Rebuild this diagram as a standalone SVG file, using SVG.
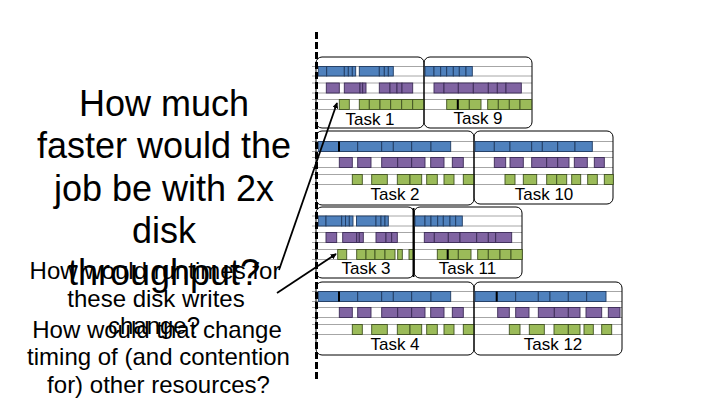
<svg xmlns="http://www.w3.org/2000/svg" width="720" height="405" viewBox="0 0 720 405">
<defs>
<style>
.bg{fill:#ffffff}
.gl{stroke:#a6a6a6;stroke-width:1}
.b{fill:#4f81bd;stroke:#1f3a60;stroke-width:0.9}
.p{fill:#8064a2;stroke:#3a2a55;stroke-width:0.9}
.g{fill:#9bbb59;stroke:#3f5020;stroke-width:0.9}
.tk{stroke:#000;stroke-width:2}
.box{fill:none;stroke:#000;stroke-width:1}
.lbl{font-family:"Liberation Sans",Arial,sans-serif;font-size:17px;fill:#000;text-anchor:middle}
.big{font-family:"Liberation Sans",Arial,sans-serif;font-size:36px;fill:#000;text-anchor:middle}
.mid{font-family:"Liberation Sans",Arial,sans-serif;font-size:24px;fill:#000;text-anchor:middle}
.cn{stroke:#000;stroke-width:1.8;fill:none}
.dash{stroke:#000;stroke-width:3;stroke-dasharray:7 3}
</style>
<marker id="ah" viewBox="0 0 8 8" refX="7" refY="4" markerWidth="6" markerHeight="6" markerUnits="userSpaceOnUse" orient="auto">
<path d="M0,0 L8,4 L0,8 z" fill="#000"/>
</marker>
</defs>
<rect class="bg" x="0" y="0" width="720" height="405"/>

<g id="gridlines">
<path class="gl" d="M312,66.5H532M312,76H532M312,83H532M312,93H532M312,99.5H532M312,109.5H532"/>
<path class="gl" d="M312,141.5H613M312,151.5H613M312,157.5H613M312,167.5H613M312,174.5H613M312,184.5H613"/>
<path class="gl" d="M312,216H522M312,226H522M312,232.5H522M312,242.5H522M312,249.5H522M312,259.5H522"/>
<path class="gl" d="M312,291.5H622M312,301.5H622M312,307.5H622M312,317.5H622M312,324.5H622M312,334.5H622"/>
</g>

<g id="task1">
<rect class="box" x="316" y="57" width="108" height="71" rx="6"/>
<rect class="b" x="318.3" y="66.5" width="8.4" height="9.5"/><rect class="b" x="326.7" y="66.5" width="17.6" height="9.5"/><rect class="b" x="344.3" y="66.5" width="4" height="9.5"/><rect class="b" x="348.3" y="66.5" width="4" height="9.5"/><rect class="b" x="352.3" y="66.5" width="3.4" height="9.5"/>
<rect class="b" x="359.3" y="66.5" width="20" height="9.5"/><rect class="b" x="379.3" y="66.5" width="5" height="9.5"/><rect class="b" x="384.3" y="66.5" width="4" height="9.5"/><rect class="b" x="388.3" y="66.5" width="5" height="9.5"/>
<rect class="p" x="326.3" y="83" width="13" height="10"/><rect class="p" x="344.3" y="83" width="15.7" height="10"/><rect class="p" x="360" y="83" width="2.7" height="10"/><rect class="p" x="362.7" y="83" width="3.3" height="10"/>
<rect class="p" x="379.3" y="83" width="10.7" height="10"/><rect class="p" x="390" y="83" width="7" height="10"/><rect class="p" x="397" y="83" width="5" height="10"/><rect class="p" x="402" y="83" width="10.7" height="10"/>
<rect class="g" x="339.3" y="99.5" width="10" height="10"/><rect class="g" x="359.3" y="99.5" width="10" height="10"/><rect class="g" x="369.3" y="99.5" width="10.7" height="10"/><rect class="g" x="380" y="99.5" width="10.7" height="10"/><rect class="g" x="390.7" y="99.5" width="11" height="10"/><rect class="g" x="401.7" y="99.5" width="11" height="10"/><rect class="g" x="412.7" y="99.5" width="11.3" height="10"/>
<text class="lbl" x="370" y="125">Task 1</text>
</g>

<g id="task9">
<rect class="box" x="424" y="57" width="108" height="71" rx="6"/>
<rect class="b" x="425" y="66.5" width="9" height="9.5"/><rect class="b" x="434" y="66.5" width="6.7" height="9.5"/><rect class="b" x="440.7" y="66.5" width="6" height="9.5"/><rect class="b" x="446.7" y="66.5" width="6.6" height="9.5"/><rect class="b" x="453.3" y="66.5" width="6" height="9.5"/><rect class="b" x="459.3" y="66.5" width="6.7" height="9.5"/><rect class="b" x="466" y="66.5" width="6.3" height="9.5"/>
<rect class="p" x="434" y="83" width="10" height="10"/><rect class="p" x="444" y="83" width="14.3" height="10"/><rect class="p" x="458.3" y="83" width="15" height="10"/><rect class="p" x="473.3" y="83" width="15" height="10"/><rect class="p" x="488.3" y="83" width="9" height="10"/><rect class="p" x="497.3" y="83" width="8.7" height="10"/><rect class="p" x="506" y="83" width="15.3" height="10"/>
<rect class="g" x="446.7" y="99.5" width="11.1" height="10"/><rect class="g" x="457.8" y="99.5" width="11.5" height="10"/><rect class="g" x="469.3" y="99.5" width="11.7" height="10"/>
<rect class="g" x="487.7" y="99.5" width="10.6" height="10"/><rect class="g" x="498.3" y="99.5" width="11" height="10"/><rect class="g" x="509.3" y="99.5" width="10.7" height="10"/><rect class="g" x="520" y="99.5" width="11.7" height="10"/>
<line class="tk" x1="457.8" y1="99.5" x2="457.8" y2="109.5"/>
<text class="lbl" x="478" y="124">Task 9</text>
</g>

<g id="task2">
<rect class="box" x="316" y="131" width="158" height="74" rx="6"/>
<rect class="b" x="318.3" y="141.5" width="20.7" height="10"/><rect class="b" x="339" y="141.5" width="18.7" height="10"/><rect class="b" x="357.7" y="141.5" width="24" height="10"/><rect class="b" x="381.7" y="141.5" width="11.6" height="10"/><rect class="b" x="393.3" y="141.5" width="18.4" height="10"/><rect class="b" x="411.7" y="141.5" width="19.3" height="10"/><rect class="b" x="431" y="141.5" width="19.7" height="10"/>
<line class="tk" x1="339" y1="141.5" x2="339" y2="151.5"/>
<rect class="p" x="339.3" y="157.5" width="13" height="10"/><rect class="p" x="357.7" y="157.5" width="13.3" height="10"/><rect class="p" x="381.7" y="157.5" width="16" height="10"/><rect class="p" x="397.7" y="157.5" width="14" height="10"/><rect class="p" x="411.7" y="157.5" width="13.3" height="10"/><rect class="p" x="430.7" y="157.5" width="13.3" height="10"/><rect class="p" x="452.3" y="157.5" width="11" height="10"/>
<rect class="g" x="352.3" y="174.5" width="10" height="10"/><rect class="g" x="371.7" y="174.5" width="15.6" height="10"/><rect class="g" x="397.3" y="174.5" width="12.7" height="10"/><rect class="g" x="410" y="174.5" width="11.7" height="10"/><rect class="g" x="426.7" y="174.5" width="10.6" height="10"/><rect class="g" x="444" y="174.5" width="10" height="10"/><rect class="g" x="463.3" y="174.5" width="10.7" height="10"/>
<text class="lbl" x="395" y="200">Task 2</text>
</g>

<g id="task10">
<rect class="box" x="474" y="131" width="139" height="73" rx="6"/>
<rect class="b" x="475" y="141.5" width="19.3" height="10"/><rect class="b" x="494.3" y="141.5" width="15.7" height="10"/><rect class="b" x="510" y="141.5" width="21.7" height="10"/><rect class="b" x="531.7" y="141.5" width="10.6" height="10"/><rect class="b" x="542.3" y="141.5" width="15.4" height="10"/><rect class="b" x="557.7" y="141.5" width="17.3" height="10"/><rect class="b" x="575" y="141.5" width="17.3" height="10"/>
<rect class="p" x="494.3" y="157.5" width="11.4" height="10"/><rect class="p" x="510" y="157.5" width="13.3" height="10"/><rect class="p" x="531.7" y="157.5" width="15" height="10"/><rect class="p" x="546.7" y="157.5" width="11" height="10"/><rect class="p" x="557.7" y="157.5" width="11.3" height="10"/><rect class="p" x="574.3" y="157.5" width="13" height="10"/><rect class="p" x="594.3" y="157.5" width="10" height="10"/>
<rect class="g" x="505" y="174.5" width="10" height="10"/><rect class="g" x="523.3" y="174.5" width="13.4" height="10"/><rect class="g" x="546.7" y="174.5" width="10" height="10"/><rect class="g" x="556.7" y="174.5" width="10" height="10"/><rect class="g" x="571.7" y="174.5" width="9" height="10"/><rect class="g" x="587.7" y="174.5" width="9.6" height="10"/><rect class="g" x="604.3" y="174.5" width="9" height="10"/>
<text class="lbl" x="544" y="200">Task 10</text>
</g>

<g id="task3">
<rect class="box" x="316" y="207" width="98" height="71" rx="6"/>
<rect class="b" x="318.3" y="216" width="7.7" height="10"/><rect class="b" x="326" y="216" width="15.7" height="10"/><rect class="b" x="341.7" y="216" width="3.8" height="10"/><rect class="b" x="345.5" y="216" width="3.8" height="10"/><rect class="b" x="349.3" y="216" width="3.7" height="10"/>
<rect class="b" x="356.5" y="216" width="19.5" height="10"/><rect class="b" x="376" y="216" width="5" height="10"/><rect class="b" x="381" y="216" width="4" height="10"/><rect class="b" x="385" y="216" width="3.3" height="10"/>
<rect class="p" x="326" y="232.5" width="10.7" height="10"/><rect class="p" x="342.7" y="232.5" width="14" height="10"/><rect class="p" x="356.7" y="232.5" width="2.6" height="10"/><rect class="p" x="359.3" y="232.5" width="4" height="10"/>
<rect class="p" x="376" y="232.5" width="10" height="10"/><rect class="p" x="386" y="232.5" width="5.7" height="10"/><rect class="p" x="391.7" y="232.5" width="5.6" height="10"/>
<rect class="g" x="337.7" y="249.5" width="9" height="10"/><rect class="g" x="356.7" y="249.5" width="9.3" height="10"/><rect class="g" x="366" y="249.5" width="9" height="10"/><rect class="g" x="375" y="249.5" width="10" height="10"/><rect class="g" x="385" y="249.5" width="10" height="10"/><rect class="g" x="397.7" y="249.5" width="4.6" height="10"/><rect class="g" x="409" y="249.5" width="5" height="10"/>
<text class="lbl" x="366" y="273.5">Task 3</text>
</g>

<g id="task11">
<rect class="box" x="414" y="207" width="108" height="71" rx="6"/>
<line class="tk" x1="413.5" y1="208" x2="413.5" y2="277"/>
<rect class="b" x="415" y="216" width="10" height="10"/><rect class="b" x="425" y="216" width="6" height="10"/><rect class="b" x="431" y="216" width="6.7" height="10"/><rect class="b" x="437.7" y="216" width="5.6" height="10"/><rect class="b" x="443.3" y="216" width="6.7" height="10"/><rect class="b" x="450" y="216" width="5.7" height="10"/><rect class="b" x="455.7" y="216" width="6.6" height="10"/>
<rect class="p" x="424.3" y="232.5" width="10" height="10"/><rect class="p" x="434.3" y="232.5" width="14" height="10"/><rect class="p" x="448.3" y="232.5" width="11.7" height="10"/><rect class="p" x="460" y="232.5" width="16.7" height="10"/><rect class="p" x="476.7" y="232.5" width="11.6" height="10"/><rect class="p" x="488.3" y="232.5" width="7.4" height="10"/><rect class="p" x="495.7" y="232.5" width="16" height="10"/>
<rect class="g" x="437.3" y="249.5" width="10.4" height="10"/><rect class="g" x="447.7" y="249.5" width="10.6" height="10"/><rect class="g" x="458.3" y="249.5" width="12.7" height="10"/>
<rect class="g" x="477.7" y="249.5" width="10.6" height="10"/><rect class="g" x="488.3" y="249.5" width="11.7" height="10"/><rect class="g" x="500" y="249.5" width="11" height="10"/><rect class="g" x="511" y="249.5" width="11.3" height="10"/>
<line class="tk" x1="447.7" y1="249.5" x2="447.7" y2="259.5"/>
<text class="lbl" x="467.5" y="273.5">Task 11</text>
</g>

<g id="task4">
<rect class="box" x="316" y="282" width="158" height="73" rx="6"/>
<rect class="b" x="318.3" y="291.5" width="20.7" height="10"/><rect class="b" x="339" y="291.5" width="18.7" height="10"/><rect class="b" x="357.7" y="291.5" width="24" height="10"/><rect class="b" x="381.7" y="291.5" width="11.6" height="10"/><rect class="b" x="393.3" y="291.5" width="18.4" height="10"/><rect class="b" x="411.7" y="291.5" width="19.3" height="10"/><rect class="b" x="431" y="291.5" width="19.7" height="10"/>
<line class="tk" x1="339" y1="291.5" x2="339" y2="301.5"/>
<rect class="p" x="339.3" y="307.5" width="13" height="10"/><rect class="p" x="357.7" y="307.5" width="13.3" height="10"/><rect class="p" x="381.7" y="307.5" width="16" height="10"/><rect class="p" x="397.7" y="307.5" width="14" height="10"/><rect class="p" x="411.7" y="307.5" width="13.3" height="10"/><rect class="p" x="430.7" y="307.5" width="13.3" height="10"/><rect class="p" x="452.3" y="307.5" width="11" height="10"/>
<rect class="g" x="352.3" y="324.5" width="10" height="10"/><rect class="g" x="371.7" y="324.5" width="15.6" height="10"/><rect class="g" x="397.3" y="324.5" width="12.7" height="10"/><rect class="g" x="410" y="324.5" width="11.7" height="10"/><rect class="g" x="426.7" y="324.5" width="10.6" height="10"/><rect class="g" x="444" y="324.5" width="10" height="10"/><rect class="g" x="463.3" y="324.5" width="10.7" height="10"/>
<text class="lbl" x="395" y="350">Task 4</text>
</g>

<g id="task12">
<rect class="box" x="474" y="282" width="148" height="73" rx="6"/>
<rect class="b" x="475" y="291.5" width="21.7" height="10"/><rect class="b" x="496.7" y="291.5" width="19" height="10"/><rect class="b" x="515.7" y="291.5" width="22.6" height="10"/><rect class="b" x="538.3" y="291.5" width="11.7" height="10"/><rect class="b" x="550" y="291.5" width="18.3" height="10"/><rect class="b" x="568.3" y="291.5" width="18.4" height="10"/><rect class="b" x="586.7" y="291.5" width="19.3" height="10"/>
<line class="tk" x1="496.7" y1="291.5" x2="496.7" y2="301.5"/>
<rect class="p" x="497.7" y="307.5" width="11.6" height="10"/><rect class="p" x="515.7" y="307.5" width="13.3" height="10"/><rect class="p" x="538.3" y="307.5" width="16" height="10"/><rect class="p" x="554.3" y="307.5" width="14" height="10"/><rect class="p" x="568.3" y="307.5" width="11.7" height="10"/><rect class="p" x="586" y="307.5" width="15.7" height="10"/><rect class="p" x="608.3" y="307.5" width="11.7" height="10"/>
<rect class="g" x="509.3" y="324.5" width="10.7" height="10"/><rect class="g" x="529.3" y="324.5" width="15" height="10"/><rect class="g" x="554" y="324.5" width="14.3" height="10"/><rect class="g" x="568.3" y="324.5" width="11.7" height="10"/><rect class="g" x="584" y="324.5" width="9.3" height="10"/><rect class="g" x="601.7" y="324.5" width="10" height="10"/>
<text class="lbl" x="553" y="350">Task 12</text>
</g>

<g id="timeline">
<line class="dash" x1="316.5" y1="32" x2="316.5" y2="382"/>
</g>

<g id="question-main">
<text class="big" x="164" y="116">How much</text>
<text class="big" x="164" y="158.3">faster would the</text>
<text class="big" x="164" y="200.5">job be with 2x</text>
<text class="big" x="164" y="242.8">disk</text>
<text class="big" x="164" y="285">throughput?</text>
</g>

<g id="question-writes">
<text class="mid" x="155" y="278.5">How would runtimes for</text>
<text class="mid" x="156" y="306.5">these disk writes</text>
<text class="mid" x="154" y="333.5">change?</text>
</g>

<g id="question-timing">
<text class="mid" x="157" y="337.5">How would that change</text>
<text class="mid" x="158.5" y="365">timing of (and contention</text>
<text class="mid" x="158.5" y="392.5">for) other resources?</text>
</g>

<g id="connectors">
<line class="cn" x1="279" y1="270" x2="337" y2="103" marker-end="url(#ah)"/>
<line class="cn" x1="277" y1="293" x2="336" y2="254" marker-end="url(#ah)"/>
</g>
</svg>
